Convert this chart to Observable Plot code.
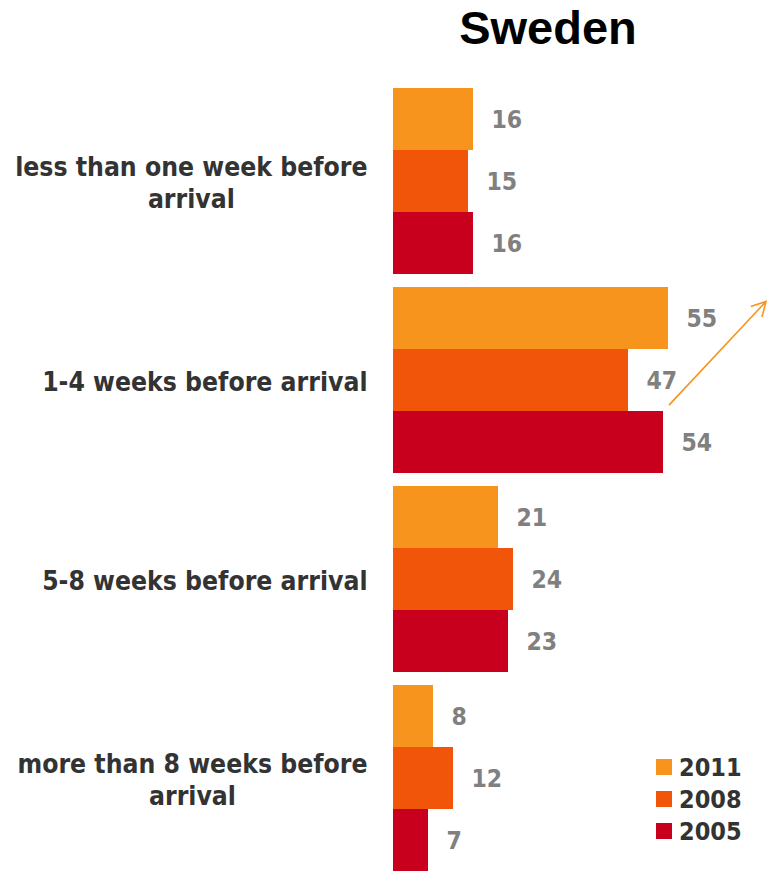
<!DOCTYPE html>
<html><head><meta charset="utf-8">
<script src="https://cdn.jsdelivr.net/npm/d3@7"></script>
<script src="https://cdn.jsdelivr.net/npm/@observablehq/plot@0.6"></script>
<style>
body{margin:0;background:#fff;}
#wrap{position:relative;width:767px;height:872px;overflow:hidden;}
#title{height:64px;line-height:64px;font:bold 47px "Liberation Sans",Arial,sans-serif;color:#000;margin-left:348px;width:400px;text-align:center;}
#legend{position:absolute;left:656px;top:751px;font:bold 25px "DejaVu Sans Condensed","DejaVu Sans",sans-serif;font-stretch:condensed;color:#333;}
.row{display:flex;align-items:center;height:32px;}
.sw{width:16px;height:16px;margin-right:7px;}
</style></head><body>
<div id="wrap"><div id="title">Sweden</div><div id="chart"></div><div id="legend"></div></div>
<script>
const categories = ["less than one week before\narrival", "1-4 weeks before arrival", "5-8 weeks before arrival", "more than 8 weeks before\narrival"];
const years = ["2011", "2008", "2005"];
const colors = ["#F7941E", "#F0550A", "#C8001E"];
const v2011 = [16, 55, 21, 8];
const v2008 = [15, 47, 24, 12];
const v2005 = [16, 54, 23, 7];
const xMax = 74.8;
// annotation arrow (data units on x, fraction of the group band on y)
const arrowCategory = categories[1];
const arrowFrom = {x: 55.2, yFrac: 0.635};
const arrowTo = {x: 74.6, yFrac: 0.078};

const series = [v2011, v2008, v2005];
const table = [];
categories.forEach((c, i) => years.forEach((y, j) => table.push({category: c, year: y, value: series[j][i]})));

const font = "'DejaVu Sans Condensed', 'DejaVu Sans', sans-serif";
const plot = Plot.plot({
  width: 767,
  height: 808,
  marginLeft: 393,
  marginRight: 0,
  marginTop: 24,
  marginBottom: 0,
  style: {fontFamily: font, background: "white", fontStretch: "condensed"},
  x: {domain: [0, xMax], axis: null},
  y: {domain: years, padding: 0, axis: null},
  fy: {domain: categories, paddingInner: 0.065, paddingOuter: 0, axis: null},
  color: {domain: years, range: colors},
  marks: [
    Plot.barX(table, {x: "value", y: "year", fy: "category", fill: "year"}),
    Plot.text(table, {x: "value", y: "year", fy: "category", text: d => String(d.value), dx: 18, dy: 1, textAnchor: "start", fill: "#808080", fontWeight: "bold", fontSize: 24.5}),
    Plot.text(categories, {fy: d => d, text: d => d, frameAnchor: "left", dx: -26, textAnchor: "end", fill: "#333", fontWeight: "bold", fontSize: 26.3, lineHeight: 1.21})
  ]
});
document.getElementById("chart").append(plot);

// center the lines of multi-line category labels on each other (right edge kept)
plot.querySelectorAll("text").forEach(t => {
  const ts = t.querySelectorAll("tspan");
  if (ts.length < 2) return;
  let w = 0;
  ts.forEach(s => { w = Math.max(w, s.getComputedTextLength()); });
  ts.forEach(s => { s.setAttribute("x", -w / 2); s.setAttribute("text-anchor", "middle"); });
});

// arrow annotation positioned through the plot's scales
const xs = plot.scale("x"), fys = plot.scale("fy");
const top0 = fys.apply(arrowCategory), bw = fys.bandwidth;
const x1 = xs.apply(arrowFrom.x), y1 = top0 + bw * arrowFrom.yFrac;
const x2 = xs.apply(arrowTo.x), y2 = top0 + bw * arrowTo.yFrac;
const ang = Math.atan2(y2 - y1, x2 - x1), L = 16, spread = 0.5;
const h1 = [x2 - L * Math.cos(ang - spread), y2 - L * Math.sin(ang - spread)];
const h2 = [x2 - L * Math.cos(ang + spread), y2 - L * Math.sin(ang + spread)];
d3.select(plot).append("path")
  .attr("d", `M${x1},${y1}L${x2},${y2}M${h1[0]},${h1[1]}L${x2},${y2}L${h2[0]},${h2[1]}`)
  .attr("fill", "none").attr("stroke", colors[0]).attr("stroke-width", 1.6);

// legend
const lg = d3.select("#legend");
years.forEach((y, i) => {
  const r = lg.append("div").attr("class", "row");
  r.append("div").attr("class", "sw").style("background", colors[i]);
  r.append("span").text(y);
});
</script>
</body></html>
